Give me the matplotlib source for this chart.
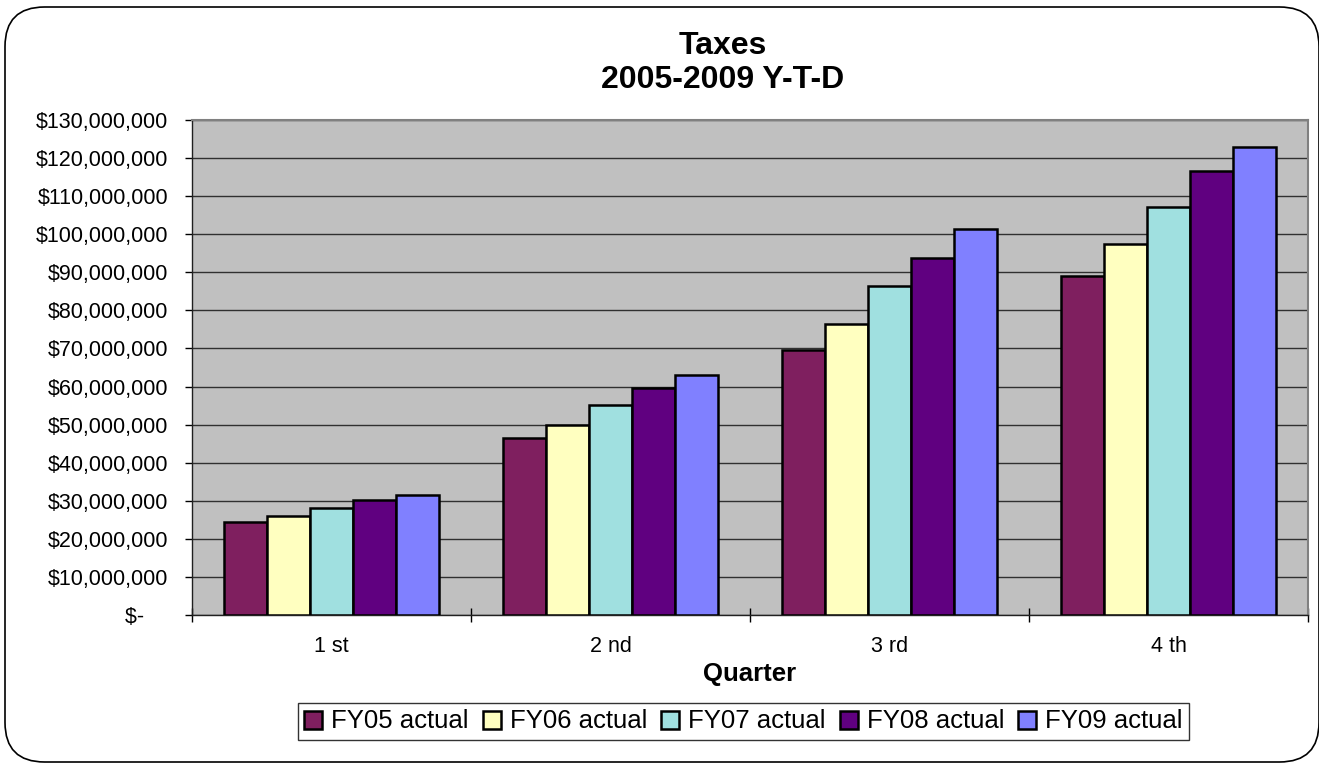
import numpy as np
import matplotlib
matplotlib.use("Agg")
import matplotlib.pyplot as plt
from matplotlib.patches import FancyBboxPatch
from matplotlib.ticker import FuncFormatter, MultipleLocator, FixedLocator

plt.rcParams['font.family'] = ['Liberation Sans', 'DejaVu Sans']

# Data
quarters = ["1 st", "2 nd", "3 rd", "4 th"]
series = ["FY05 actual", "FY06 actual", "FY07 actual", "FY08 actual", "FY09 actual"]
fy05 = [24.4e6, 46.4e6, 69.5e6, 88.9e6]
fy06 = [26.0e6, 49.9e6, 76.5e6, 97.4e6]
fy07 = [28.2e6, 55.2e6, 86.5e6, 107.2e6]
fy08 = [30.3e6, 59.7e6, 93.7e6, 116.6e6]
fy09 = [31.5e6, 62.9e6, 101.5e6, 122.8e6]
colors = ["#7F1F5F", "#FFFFC0", "#A0E0E0", "#600080", "#8080FF"]

values = [fy05, fy06, fy07, fy08, fy09]

fig = plt.figure(figsize=(13.19, 7.63), dpi=100)

# rounded chart border (runs slightly off the right/bottom edge like the original)
border = FancyBboxPatch((5 / 1319, 1 / 763), 1314 / 1319, 755 / 763,
                        boxstyle="round,pad=0,rounding_size=0.03",
                        transform=fig.transFigure, facecolor="none",
                        edgecolor="black", linewidth=1.2, mutation_aspect=1319 / 763)
fig.patches.append(border)

ax = fig.add_axes([192 / 1319, 1 - 615 / 763, (1308 - 192) / 1319, (615 - 120) / 763])
ax.set_facecolor("#C0C0C0")

x = np.arange(len(quarters))
w = 1 / 6.5
for i, (name, vals, c) in enumerate(zip(series, values, colors)):
    ax.bar(x + (i - 2) * w, vals, width=w, color=c, edgecolor="black",
           linewidth=1.8, label=name, zorder=3)

ax.set_xlim(-0.5, 3.5)
ax.set_ylim(0, 130e6)
ax.yaxis.set_major_locator(MultipleLocator(10e6))
ax.grid(axis="y", color="#303030", linewidth=1.0, zorder=1)


def money(v, pos):
    if v == 0:
        return "$-    "
    return "${:,.0f}".format(v)


ax.yaxis.set_major_formatter(FuncFormatter(money))
ax.tick_params(axis="y", direction="out", length=5, width=1, pad=12, labelsize=15.5)

ax.set_xticks(x)
ax.set_xticklabels(quarters)
ax.xaxis.set_minor_locator(FixedLocator([-0.5, 0.5, 1.5, 2.5, 3.5]))
ax.tick_params(axis="x", which="major", length=0, pad=15, labelsize=15.5)
ax.tick_params(axis="x", which="minor", direction="inout", length=10, width=1)
ax.set_xlabel("Quarter", fontsize=18.5, fontweight="bold", labelpad=4)

for s in ["top", "right"]:
    ax.spines[s].set_color("#808080")
    ax.spines[s].set_linewidth(1.5)
for s in ["left", "bottom"]:
    ax.spines[s].set_color("#202020")
    ax.spines[s].set_linewidth(1.0)

fig.text(723 / 1319, 1 - 63 / 763, "Taxes\n2005-2009 Y-T-D", ha="center", va="center",
         fontsize=23, fontweight="bold", linespacing=1.2)

leg = fig.legend(loc="center", bbox_to_anchor=(743.5 / 1319, 1 - 721.5 / 763), ncol=5,
                 fontsize=18.5, frameon=True, fancybox=False, edgecolor="black",
                 handlelength=0.7, handleheight=0.7, handletextpad=0.35,
                 columnspacing=0.55, borderpad=0.25, borderaxespad=0)
leg.get_frame().set_linewidth(1.0)
for h in leg.legend_handles:
    h.set_linewidth(1.8)

fig.savefig("out.png", dpi=100)
